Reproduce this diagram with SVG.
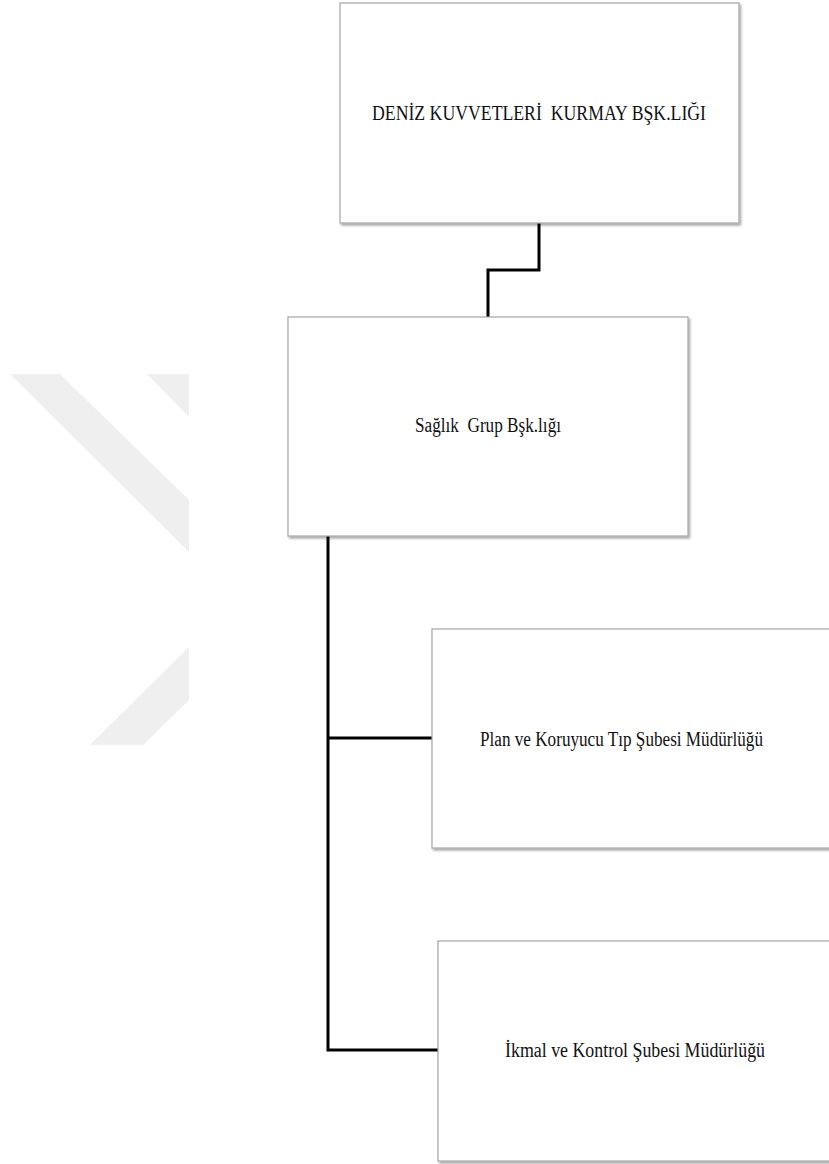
<svg xmlns="http://www.w3.org/2000/svg" width="829" height="1164" viewBox="0 0 829 1164">
<defs>
<filter id="sh" x="-5%" y="-5%" width="115%" height="115%">
<feDropShadow dx="1.5" dy="2" stdDeviation="1.2" flood-color="#000" flood-opacity="0.35"/>
</filter>
</defs>
<style>
.box{fill:#fff;stroke:#a6a6a6;stroke-width:1.2;filter:url(#sh)}
.lbl{font-family:"Liberation Serif","Times New Roman",serif;font-size:20px;fill:#111;white-space:pre}
.wm{fill:#efefef}
.conn{fill:none;stroke:#000;stroke-width:3}
</style>
<rect width="829" height="1164" fill="#fff"/>
<g id="watermark">
<polygon class="wm" points="10,374 60,374 189,500 189,552"/>
<polygon class="wm" points="147,374 189,374 189,417"/>
<polygon class="wm" points="189,647 189,700 143,745 90,745"/>
</g>
<g id="connectors">
<polyline class="conn" points="539,223 539,270 488,270 488,317"/>
<polyline class="conn" points="328,536 328,1050 438,1050"/>
<line class="conn" x1="328" y1="738" x2="432" y2="738"/>
</g>
<g id="node-kurmay">
<rect class="box" x="340" y="3" width="399" height="220"/>
<text class="lbl" xml:space="preserve" x="372" y="120" textLength="334" lengthAdjust="spacingAndGlyphs">DENİZ KUVVETLERİ  KURMAY BŞK.LIĞI</text>
</g>
<g id="node-saglik">
<rect class="box" x="288" y="317" width="400" height="219"/>
<text class="lbl" xml:space="preserve" x="415" y="432" textLength="146" lengthAdjust="spacingAndGlyphs">Sağlık  Grup Bşk.lığı</text>
</g>
<g id="node-plan">
<rect class="box" x="432" y="629" width="420" height="219"/>
<text class="lbl" x="480" y="746" textLength="283" lengthAdjust="spacingAndGlyphs">Plan ve Koruyucu Tıp Şubesi Müdürlüğü</text>
</g>
<g id="node-ikmal">
<rect class="box" x="438" y="941" width="420" height="220"/>
<text class="lbl" x="505" y="1057" textLength="260" lengthAdjust="spacingAndGlyphs">İkmal ve Kontrol Şubesi Müdürlüğü</text>
</g>
</svg>
